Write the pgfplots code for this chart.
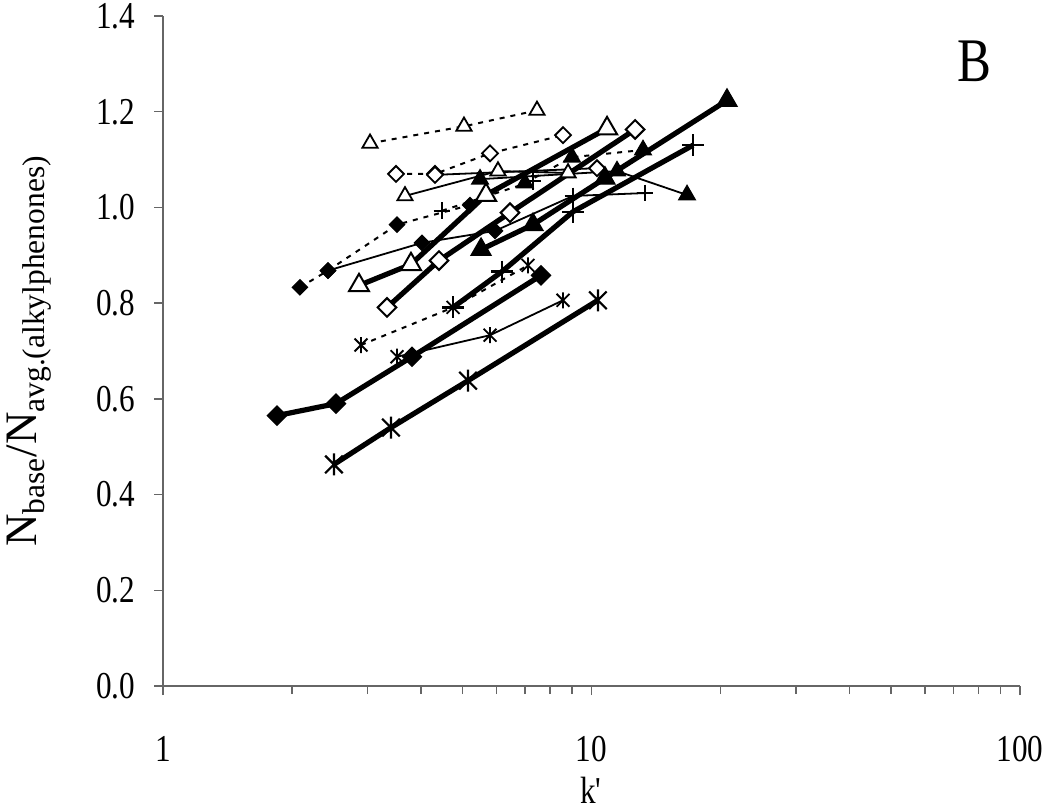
\documentclass[border=0pt]{standalone}
\usepackage{fontspec}
\setmainfont{Liberation Serif}[FakeStretch=0.82]
\newfontfamily\ylfont{Liberation Serif}
\usepackage{pgfplots}
\pgfplotsset{compat=1.18}
\pgfdeclareplotmark{xstar}{%
  \pgfpathmoveto{\pgfqpoint{0pt}{\pgfplotmarksize}}%
  \pgfpathlineto{\pgfqpoint{0pt}{-\pgfplotmarksize}}%
  \pgfpathmoveto{\pgfqpoint{.8\pgfplotmarksize}{.8\pgfplotmarksize}}%
  \pgfpathlineto{\pgfqpoint{-.8\pgfplotmarksize}{-.8\pgfplotmarksize}}%
  \pgfpathmoveto{\pgfqpoint{-.8\pgfplotmarksize}{.8\pgfplotmarksize}}%
  \pgfpathlineto{\pgfqpoint{.8\pgfplotmarksize}{-.8\pgfplotmarksize}}%
  \pgfusepathqstroke}
\pgfplotsset{
  thickl/.style={black, line width=2.6pt, solid},
  thinl/.style={black, line width=0.9pt, solid},
  dashl/.style={black, line width=1pt, dash pattern=on 2.5pt off 3pt},
  % thick markers
  Tfd/.style={mark=square*, mark size=3.4pt, mark options={solid, fill=black, rotate=45, line width=0.6pt}},
  Tod/.style={mark=square*, mark size=3.3pt, mark options={solid, fill=white, rotate=45, line width=1pt}},
  Tft/.style={mark=triangle*, mark size=5.8pt, mark options={solid, fill=black, line width=0.6pt}},
  Tot/.style={mark=triangle*, mark size=5.8pt, mark options={solid, fill=white, line width=1pt}},
  Tpl/.style={mark=+, mark size=5.5pt, mark options={solid, line width=1.1pt}},
  Tst/.style={mark=xstar, mark size=5.5pt, mark options={solid, line width=1.1pt}},
  % small markers
  sfd/.style={mark=square*, mark size=2.7pt, mark options={solid, fill=black, rotate=45, line width=0.6pt}},
  sod/.style={mark=square*, mark size=2.8pt, mark options={solid, fill=white, rotate=45, line width=0.9pt}},
  sft/.style={mark=triangle*, mark size=4.8pt, mark options={solid, fill=black, line width=0.6pt}},
  sot/.style={mark=triangle*, mark size=4.4pt, mark options={solid, fill=white, line width=0.9pt}},
  spl/.style={mark=+, mark size=4.2pt, mark options={solid, line width=0.9pt}},
  sst/.style={mark=xstar, mark size=4pt, mark options={solid, line width=0.9pt}},
}
\begin{document}
\fontsize{19}{22}\selectfont
\begin{tikzpicture}
\begin{axis}[
  at={(0,0)}, anchor=south west,
  scale only axis, width=428.5pt, height=335pt,
  xmode=log, xmin=1, xmax=100, ymin=0, ymax=1.4,
  axis x line=bottom, axis y line=left,
  axis line style={-, black!60, line width=0.8pt},
  every tick/.style={black!60, line width=0.7pt},
  tick align=outside,
  major tick length=4.5pt, minor tick length=4pt,
  xtick={1,10,100}, xticklabels={1,10,100},
  ytick={0,0.2,0.4,0.6,0.8,1.0,1.2,1.4},
  yticklabel style={/pgf/number format/.cd, fixed, fixed zerofill, precision=1, /tikz/.cd},
  /pgf/number format/assume math mode=true,
  ytick style={black!60},
  minor y tick num=0,
  xticklabel style={yshift=-14pt},
  yticklabel style={xshift=-3pt},
  clip=false,
  every axis y label/.style={at={(rel axis cs:0,0.5)}, xshift=-67pt, rotate=90, anchor=center,
      font=\ylfont\fontsize{22.5}{26}\selectfont},
  every axis x label/.style={at={(rel axis cs:0.5,0)}, yshift=-52pt, anchor=center},
  ylabel={N\textsubscript{base}/N\textsubscript{avg.(alkylphenones)}},
  xlabel={k\textquotesingle},
]
% ---------- dashed series ----------
\addplot[dashl, sot] coordinates {(3.042,1.134) (5.040,1.1695) (7.462,1.2027)};
\addplot[dashl, sod] coordinates {(3.498,1.070) (4.313,1.070) (5.797,1.113) (8.581,1.151)};
\addplot[dashl, sfd] coordinates {(2.087,0.833) (2.427,0.868) (3.517,0.964) (5.206,1.005)};
\addplot[dashl, spl] coordinates {(4.478,0.993) (7.303,1.055)};
\addplot[dashl, sft] coordinates {(6.995,1.051) (9.006,1.105) (13.19,1.120)};
\addplot[dashl, sst] coordinates {(2.898,0.7125) (4.751,0.791) (7.109,0.879)};
% ---------- thin series ----------
\addplot[thinl, sot] coordinates {(3.671,1.024) (6.050,1.076) (8.815,1.072)};
\addplot[thinl, sod] coordinates {(4.313,1.068) (10.30,1.082)};
\addplot[thinl, sfd] coordinates {(2.427,0.868) (4.022,0.926) (5.953,0.951)};
\addplot[thinl, spl, mark indices={2,3}] coordinates {(5.953,0.951) (9.054,1.024) (13.33,1.030)};
\addplot[thinl, sft] coordinates {(5.494,1.059) (11.47,1.076) (16.71,1.026)};
\addplot[thinl, sst] coordinates {(3.517,0.688) (5.797,0.733) (8.581,0.806)};
% ---------- thick series ----------
\addplot[thickl, Tot] coordinates {(2.867,0.837) (3.791,0.881) (5.673,1.026) (10.87,1.165)};
\addplot[thickl, Tod] coordinates {(3.333,0.791) (4.407,0.889) (6.454,0.989) (12.64,1.163)};
\addplot[thickl, Tft] coordinates {(5.524,0.912) (7.303,0.964) (10.75,1.061) (20.71,1.2235)};
\addplot[thickl, Tpl] coordinates {(4.751,0.791) (6.182,0.866) (9.054,0.991) (17.26,1.130)};
\addplot[thickl, Tfd] coordinates {(1.845,0.565) (2.533,0.590) (3.812,0.688) (7.624,0.858)};
\addplot[thickl, Tst] coordinates {(2.506,0.463) (3.405,0.540) (5.150,0.638) (10.35,0.806)};
\node[font=\fontsize{31}{33}\selectfont] at (rel axis cs:0.947,0.933) {B};
\end{axis}
\pgfresetboundingbox
\path[use as bounding box] (-81.5pt,-61.5pt) rectangle (443.5pt,343pt);
\end{tikzpicture}
\end{document}
